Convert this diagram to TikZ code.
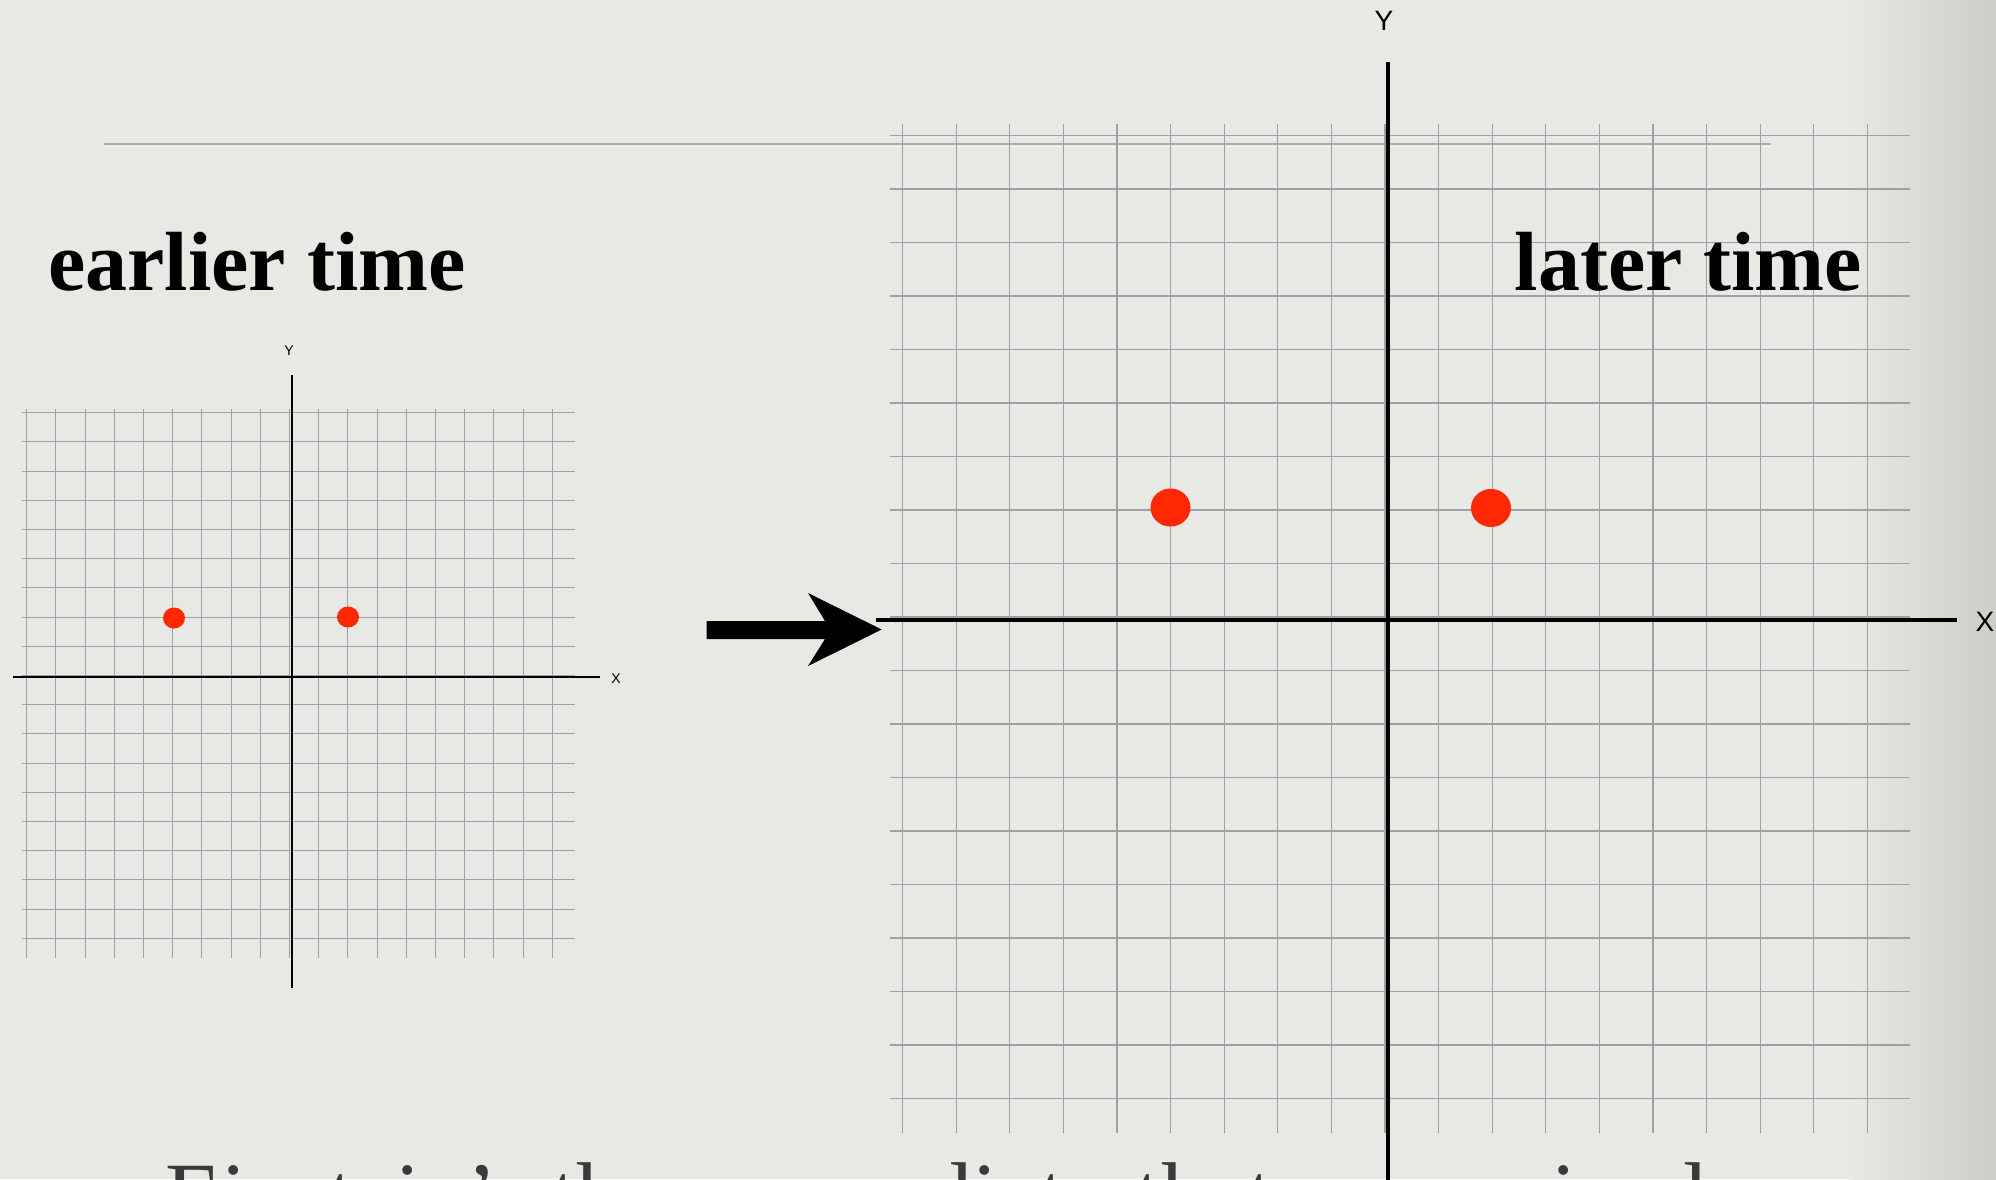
\documentclass[tikz,border=0pt]{standalone}
\usepackage{fontspec}
\usetikzlibrary{shapes.geometric}
\setmainfont{Liberation Serif}
\newfontfamily\axisfont{Liberation Sans}
\definecolor{bg}{RGB}{232,232,228}
\definecolor{bgdark}{RGB}{205,205,199}
\definecolor{gridgray}{RGB}{160,160,160}
\definecolor{dotred}{RGB}{255,40,0}
\definecolor{rulegray}{RGB}{172,172,168}
\definecolor{bodygray}{RGB}{58,58,58}
\begin{document}
\begin{tikzpicture}[x=1pt,y=-1pt,
  gridS/.style={draw=gridgray, line width=0.9pt},
  gridL/.style={draw=gridgray, line width=1.2pt},
  axisS/.style={draw=black, line width=2pt},
  axisL/.style={draw=black, line width=4pt},
  dotS/.style={fill=dotred, ellipse, inner sep=0pt, minimum width=22pt, minimum height=21pt},
  dotL/.style={fill=dotred, ellipse, inner sep=0pt, minimum width=40pt, minimum height=38pt},
  titletext/.style={font=\bfseries\fontsize{84}{90}\selectfont, anchor=base west, inner sep=0pt},
  axlabS/.style={font=\axisfont\fontsize{14}{14}\selectfont, inner sep=0pt},
  axlabL/.style={font=\axisfont\fontsize{28}{28}\selectfont, inner sep=0pt},
  bodytext/.style={font=\fontsize{92}{100}\selectfont, text=bodygray, anchor=base west, inner sep=0pt}
]
\useasboundingbox (0,0) rectangle (1996,1179);
\clip (0,0) rectangle (1996,1179);
% background
\fill[bg] (0,0) rectangle (1996,1179);
\shade[left color=bg, right color=bgdark] (1850,0) rectangle (1997,1179);
% slide rule
\draw[rulegray, line width=2pt] (104,144) -- (1771,144);
\draw[white!60!bg, line width=1pt] (104,146.5) -- (1771,146.5);

% ---------- small grid (earlier time) ----------
\foreach \k in {-9,...,9} {
  \draw[gridS] ({289.5+\k*29.2},409) -- ({289.5+\k*29.2},958);
  \draw[gridS] (22,{675.5+\k*29.2}) -- (575,{675.5+\k*29.2});
}
\coordinate (sXl) at (13,677);
\coordinate (sXr) at (600,677);
\coordinate (sYt) at (291.5,375);
\coordinate (sYb) at (291.5,988);
\draw[axisS] (sXl) -- (sXr);
\draw[axisS] (sYt) -- (sYb);
\node[axlabS] (sYlab) at (289,351) {Y};
\node[axlabS] (sXlab) at (616,679) {X};
\node[dotS] (sdot1) at (174,618) {};
\node[dotS] (sdot2) at (348,617) {};

% ---------- large grid (later time) ----------
\foreach \k in {-9,...,9} {
  \draw[gridL] ({1385+\k*53.6},124) -- ({1385+\k*53.6},1133);
  \draw[gridL] (890,{617+\k*53.5}) -- (1910,{617+\k*53.5});
}
\coordinate (lXl) at (876,620);
\coordinate (lXr) at (1957,620);
\coordinate (lYt) at (1388,62);
\coordinate (lYb) at (1388,1185);
\draw[axisL] (lXl) -- (lXr);
\draw[axisL] (lYt) -- (lYb);
\node[axlabL] (lYlab) at (1384,21) {Y};
\node[axlabL] (lXlab) at (1985,622) {X};
\node[dotL] (ldot1) at (1170.5,507.5) {};
\node[dotL] (ldot2) at (1491,508) {};

% ---------- block arrow ----------
\coordinate (arS) at (706.7,630);
\coordinate (arT) at (881.7,629.5);
\fill[black] (arS) ++(0,-9) -- (825,621) -- (808,593) -- (arT) -- (808,666) -- (825,639) -- (706.7,639) -- cycle;

% ---------- texts ----------
\node[titletext] (tEarly) at (48,290) {earlier time};
\node[titletext] (tLate) at (1514.5,290) {later time};
\node[bodytext] (body) at (165,1226) {Einstein's theory predicts\hspace{12pt} that\hspace{14pt} space\hspace{14pt} is\hspace{7pt} also};
\end{tikzpicture}
\end{document}
